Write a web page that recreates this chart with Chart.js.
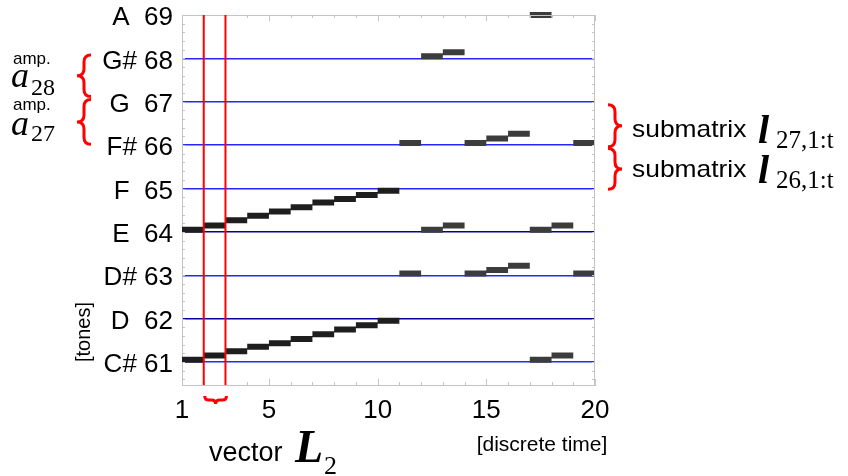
<!DOCTYPE html>
<html>
<head>
<meta charset="utf-8">
<script src="https://cdn.jsdelivr.net/npm/chart.js@4.4.1/dist/chart.umd.min.js"></script>
<style>
html, body { margin: 0; padding: 0; background: #fff; }
canvas { display: block; }
</style>
</head>
<body>
<canvas id="myChart" width="848" height="476"></canvas>
<script>
// tones (y axis) and time ticks (x axis)
var toneValues = [61, 62, 63, 64, 65, 66, 67, 68, 69];
var toneNames = ['C#', 'D', 'D#', 'E', 'F', 'F#', 'G', 'G#', 'A'];
var timeTicks = [1, 5, 10, 15, 20];

// rising notes for t = 1..10
var riseTimes = [1, 2, 3, 4, 5, 6, 7, 8, 9, 10];
var riseLow = [61.05, 61.15, 61.25, 61.35, 61.43, 61.53, 61.64, 61.75, 61.85, 61.95];
var riseHigh = [64.05, 64.15, 64.27, 64.37, 64.47, 64.57, 64.68, 64.76, 64.85, 64.95];

// later notes
var midTimes = [11, 14, 15, 16, 19];
var midFs = [66.05, 66.05, 66.15, 66.26, 66.05];
var midDs = [63.04, 63.04, 63.12, 63.22, 63.04];
var eTimes = [12, 13, 17, 18, 20];
var eVals = [64.05, 64.15, 64.05, 64.15, 64.05];
var topTimes = [12, 13, 17];
var topVals = [68.05, 68.14, 69.0];
var lowTimes = [17, 18, 20];
var lowVals = [61.05, 61.15, 61.05];

// each note lasts one time step
function notes(times, vals) {
    var pts = [];
    times.forEach(function(t, i) {
        pts.push({x: t, y: vals[i]}, {x: t + 1, y: vals[i]}, {x: t + 1, y: null});
    });
    return pts;
}

function noteSet(times, vals, color) {
    return {
        data: notes(times, vals),
        borderColor: color,
        borderWidth: 6,
        borderCapStyle: 'butt',
        pointRadius: 0,
        tension: 0,
        spanGaps: false,
        clip: {left: 0, top: 4, right: 3, bottom: 0}
    };
}

var SANS = '"Liberation Sans", Arial, sans-serif';
var SERIF = '"Liberation Serif", "Times New Roman", serif';

function text(ctx, str, x, y, font, align, sx) {
    ctx.save();
    ctx.font = font;
    ctx.textAlign = align || 'left';
    ctx.textBaseline = 'alphabetic';
    ctx.translate(x, y);
    ctx.scale(sx || 1, 1);
    ctx.fillText(str, 0, 0);
    ctx.restore();
}

// vertical curly brace, dir -1 = '{', +1 = '}'
function brace(ctx, x, y1, y2, q, dir) {
    var ym = (y1 + y2) / 2;
    ctx.beginPath();
    ctx.moveTo(x - dir * q, y1);
    ctx.quadraticCurveTo(x, y1, x, y1 + q);
    ctx.lineTo(x, ym - q);
    ctx.quadraticCurveTo(x, ym, x + dir * q, ym);
    ctx.quadraticCurveTo(x, ym, x, ym + q);
    ctx.lineTo(x, y2 - q);
    ctx.quadraticCurveTo(x, y2, x - dir * q, y2);
    ctx.stroke();
}

// horizontal brace, tip pointing down
function braceDown(ctx, y, x1, x2, q) {
    var xm = (x1 + x2) / 2;
    ctx.beginPath();
    ctx.moveTo(x1, y - q);
    ctx.quadraticCurveTo(x1, y, x1 + q, y);
    ctx.lineTo(xm - q, y);
    ctx.quadraticCurveTo(xm, y, xm, y + q);
    ctx.quadraticCurveTo(xm, y, xm + q, y);
    ctx.lineTo(x2 - q, y);
    ctx.quadraticCurveTo(x2, y, x2, y - q);
    ctx.stroke();
}

var annotations = {
    id: 'annotations',
    afterDatasetsDraw: function(chart) {
        var ctx = chart.ctx;
        var a = chart.chartArea;
        var xs = chart.scales.x, ys = chart.scales.y;
        ctx.save();

        // frame top/right + minor ticks
        ctx.strokeStyle = '#c4c4c4';
        ctx.lineWidth = 1;
        ctx.beginPath();
        ctx.moveTo(a.left, a.top + 0.5); ctx.lineTo(a.right, a.top + 0.5);
        ctx.moveTo(a.right - 0.5, a.top); ctx.lineTo(a.right - 0.5, a.bottom);
        for (var t = 1; t <= 20; t++) {
            var px = Math.round(xs.getPixelForValue(t)) + 0.5;
            var len = (t % 5 === 0) ? 6 : 3;
            ctx.moveTo(px, a.bottom); ctx.lineTo(px, a.bottom - len);
            ctx.moveTo(px, a.top); ctx.lineTo(px, a.top + len);
        }
        for (var v = 60.6; v < 69; v += 0.2) {
            var py = Math.round(ys.getPixelForValue(v)) + 0.5;
            ctx.moveTo(a.left, py); ctx.lineTo(a.left + 3, py);
            ctx.moveTo(a.right, py); ctx.lineTo(a.right - 3, py);
        }
        ctx.stroke();

        // red markers around t = 2..3
        ctx.strokeStyle = '#ff0000';
        ctx.lineWidth = 2;
        var x2 = xs.getPixelForValue(2), x3 = xs.getPixelForValue(3);
        ctx.beginPath();
        ctx.moveTo(x2, a.top); ctx.lineTo(x2, a.bottom);
        ctx.moveTo(x3, a.top); ctx.lineTo(x3, a.bottom);
        ctx.stroke();
        ctx.lineWidth = 3;
        braceDown(ctx, 400, x2 + 1, x3 + 1, 4);

        brace(ctx, 84, ys.getPixelForValue(68.08), ys.getPixelForValue(67.12), 7, -1);
        brace(ctx, 84, ys.getPixelForValue(67.05), ys.getPixelForValue(66.02), 7, -1);
        brace(ctx, 615, ys.getPixelForValue(66.93), ys.getPixelForValue(65.96), 7, 1);
        brace(ctx, 615, ys.getPixelForValue(65.92), ys.getPixelForValue(64.98), 7, 1);

        // texts
        ctx.fillStyle = '#000';
        text(ctx, 'amp.', 13, 64, '17px ' + SANS);
        text(ctx, 'a', 11, 87, 'italic 36px ' + SERIF);
        text(ctx, '28', 31, 95, '24px ' + SERIF);
        text(ctx, 'amp.', 13, 110, '17px ' + SANS);
        text(ctx, 'a', 11, 135, 'italic 36px ' + SERIF);
        text(ctx, '27', 31, 141, '24px ' + SERIF);

        text(ctx, 'submatrix', 632, 137, '24px ' + SANS, 'left', 1.1);
        text(ctx, 'l', 758, 143, 'italic bold 40px ' + SERIF);
        text(ctx, '27,1:t', 776, 148, '25px ' + SERIF);
        text(ctx, 'submatrix', 632, 177, '24px ' + SANS, 'left', 1.1);
        text(ctx, 'l', 758, 183, 'italic bold 40px ' + SERIF);
        text(ctx, '26,1:t', 776, 188, '25px ' + SERIF);

        text(ctx, 'vector', 209, 461, '27px ' + SANS);
        text(ctx, 'L', 295, 462, 'italic bold 46px ' + SERIF);
        text(ctx, '2', 324, 474, '26px ' + SERIF);
        text(ctx, '[discrete time]', 542, 451, '21px ' + SANS, 'center');

        ctx.save();
        ctx.translate(90, 332);
        ctx.rotate(-Math.PI / 2);
        text(ctx, '[tones]', 0, 0, '20px ' + SANS, 'center');
        ctx.restore();

        ctx.restore();
    }
};

var ctx = document.getElementById('myChart').getContext('2d');
var myChart = new Chart(ctx, {
    type: 'line',
    data: {
        datasets: [
            noteSet(riseTimes, riseHigh, '#1e1e1e'),
            noteSet(riseTimes, riseLow, '#1e1e1e'),
            noteSet(midTimes, midFs, '#3c3c3c'),
            noteSet(midTimes, midDs, '#3c3c3c'),
            noteSet(eTimes, eVals, '#3c3c3c'),
            noteSet(topTimes, topVals, '#3c3c3c'),
            noteSet(lowTimes, lowVals, '#3c3c3c')
        ]
    },
    options: {
        responsive: false,
        animation: false,
        layout: { padding: { left: 0, top: 15, right: 253, bottom: 0 } },
        plugins: { legend: { display: false }, tooltip: { enabled: false } },
        scales: {
            x: {
                type: 'linear',
                min: 1,
                max: 20,
                afterBuildTicks: function(s) { s.ticks = timeTicks.map(function(v) { return {value: v}; }); },
                afterFit: function(s) { s.height = 91; },
                grid: { display: false, drawTicks: false },
                border: { display: true, color: '#c4c4c4' },
                ticks: { color: '#000', font: { family: SANS, size: 26 }, padding: 10, maxRotation: 0, autoSkip: false }
            },
            y: {
                type: 'linear',
                min: 60.47,
                max: 69,
                afterBuildTicks: function(s) { s.ticks = toneValues.map(function(v) { return {value: v}; }); },
                afterFit: function(s) { s.width = 182; s.paddingTop = 0; s.paddingBottom = 0; },
                grid: {
                    drawTicks: false,
                    lineWidth: 1.5,
                    color: function(c) {
                        var v = c.tick && c.tick.value;
                        if (v === 69) return 'rgba(0,0,0,0)';
                        if (v === 62 || v === 64) return '#00009a';
                        return '#2626ff';
                    }
                },
                border: { display: true, color: '#c4c4c4' },
                ticks: {
                    color: '#000',
                    font: { family: SANS, size: 26, lineHeight: 0.6 },
                    padding: 9,
                    labelOffset: 3,
                    callback: function(value) {
                        var name = toneNames[toneValues.indexOf(value)];
                        return name + (name.length > 1 ? ' ' : '  ') + value;
                    }
                }
            }
        }
    },
    plugins: [annotations]
});
</script>
</body>
</html>
